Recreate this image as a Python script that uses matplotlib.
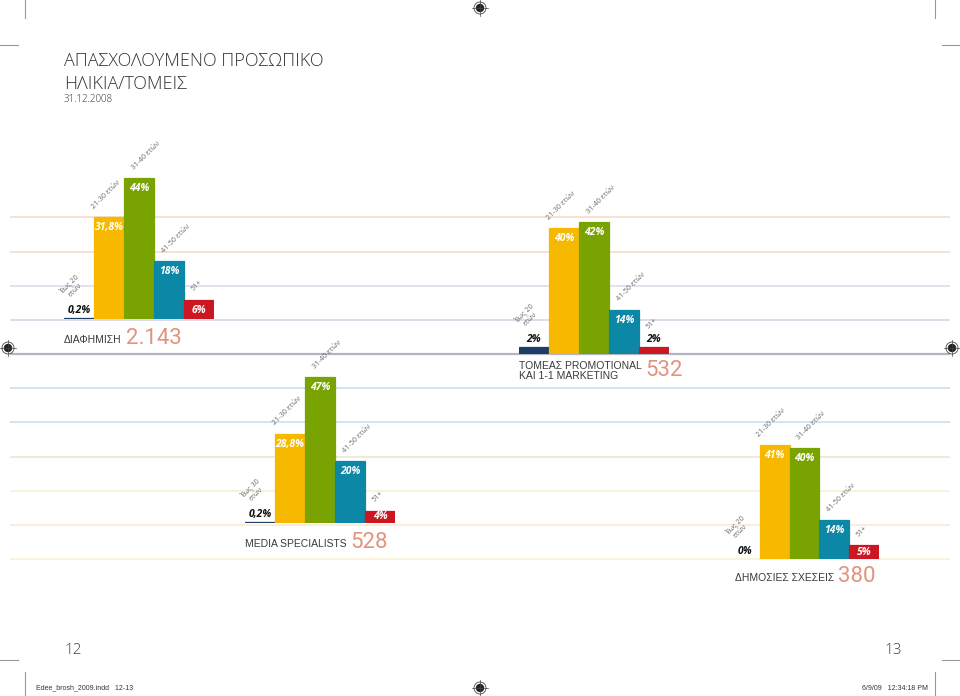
import matplotlib
matplotlib.use("Agg")
import matplotlib.pyplot as plt
from matplotlib.patches import Circle

plt.rcParams["font.family"] = ["Open Sans", "DejaVu Sans"]

# age groups per sector (the media chart reads "Έως 30" in the print)
age_groups = ["Έως 20\nετών", "21-30 ετών", "31-40 ετών", "41-50 ετών", "51+"]
media_groups = ["Έως 30\nετών", "21-30 ετών", "31-40 ετών", "41-50 ετών", "51+"]

# share of staff per age group, %
advertising = [0.2, 31.8, 44, 18, 6]
promotional = [2, 40, 42, 14, 2]
media = [0.2, 28.8, 47, 20, 4]
public_rel = [0, 41, 40, 14, 5]

sector_names = ["ΔΙΑΦΗΜΙΣΗ", "ΤΟΜΕΑΣ PROMOTIONAL\nΚΑΙ 1-1 MARKETING",
                "MEDIA SPECIALISTS", "ΔΗΜΟΣΙΕΣ ΣΧΕΣΕΙΣ"]
sector_staff = ["2.143", "532", "528", "380"]

bar_colors = ["#1d3c68", "#f6b900", "#79a300", "#0d87a6", "#cc1722"]
salmon = "#e2937d"
sans = ["Liberation Sans", "DejaVu Sans"]

W, H = 960, 696
fig = plt.figure(figsize=(9.6, 6.96), dpi=100)
page = fig.add_axes([0, 0, 1, 1])
page.set_xlim(0, W)
page.set_ylim(H, 0)
page.axis("off")

# background rules across the spread
rules = [(217, "#f6d9c6"), (252, "#f6d9c6"), (286, "#dcd8ea"), (320, "#d3d2e2"),
         (354, "#b4b4c0"), (388, "#c9dcea"), (422, "#c9dcea"), (457, "#e9e7cc"),
         (491, "#f8f0d2"), (525, "#f6ead0"), (559, "#f8f0d2")]
for y, c in rules:
    page.hlines(y, 10, 950, color=c, lw=1.6 if y == 354 else 1.1, zorder=0)

# crop marks
for xs, ys in [([25, 25], [0, 18]), ([935, 935], [0, 18]), ([0, 18], [45, 45]),
               ([942, 960], [45, 45]), ([0, 18], [660, 660]), ([942, 960], [660, 660]),
               ([25, 25], [672, 696]), ([935, 935], [672, 696])]:
    page.plot(xs, ys, color="#999999", lw=0.8)


def reg_mark(x, y):
    page.add_patch(Circle((x, y), 6, fill=False, ec="#444444", lw=0.6))
    page.add_patch(Circle((x, y), 3.5, color="#222222"))
    page.plot([x - 8, x + 8], [y, y], color="#444444", lw=0.5)
    page.plot([x, x], [y - 8, y + 8], color="#444444", lw=0.5)


for x, y in [(480, 8), (8, 348), (952, 348), (480, 688)]:
    reg_mark(x, y)

# titles
page.text(64, 61, "ΑΠΑΣΧΟΛΟΥΜΕΝΟ ΠΡΟΣΩΠΙΚΟ", fontsize=13, fontweight="light",
          color="#333333", va="center")
page.text(64, 84, "ΗΛΙΚΙΑ/ΤΟΜΕΙΣ", fontsize=13, fontweight="light",
          color="#333333", va="center")
page.text(64, 100, "31.12.2008", fontsize=7, fontweight="light",
          color="#333333", va="center")

page.text(64, 650, "12", fontsize=11, fontweight="light", color="#444444", va="center")
page.text(884, 650, "13", fontsize=11, fontweight="light", color="#444444", va="center")
page.text(36, 688, "Edee_brosh_2009.indd   12-13", fontsize=5, color="#333333",
          va="center", family=sans)
page.text(928, 688, "6/9/09   12:34:18 PM", fontsize=5, color="#333333",
          va="center", ha="right", family=sans)


def fmt(v):
    if v == int(v):
        return f"{int(v)}%"
    return f"{v}%".replace(".", ",")


def draw_panel(x0, x1, base, scale, values, labels):
    top = 55
    ax = fig.add_axes([x0 / W, (H - base) / H, (x1 - x0) / W, top * scale / H])
    ax.set_xlim(-0.5, 4.5)
    ax.set_ylim(0, top)
    ax.axis("off")
    ax.patch.set_alpha(0)
    lws = [0.9 if v > 0 else 0 for v in values]
    ax.bar(range(5), values, width=1, color=bar_colors, edgecolor=bar_colors,
           linewidth=lws)
    for i, v in enumerate(values):
        txt = fmt(v)
        kw = dict(fontsize=7.5, fontweight="bold", style="italic",
                  textcoords="offset pixels", ha="center")
        if v < 3:
            ax.annotate(txt, (i, v), xytext=(0, 2), va="bottom", color="#111111", **kw)
            dy = 17
        elif v * scale > 18:
            ax.annotate(txt, (i, v), xytext=(0, -5), va="top", color="white", **kw)
            dy = 7
        else:
            ax.annotate(txt, (i, v / 2), xytext=(0, 0), va="center", color="white", **kw)
            dy = 7
        dx = {0: -10, 1: -14}.get(i, -4)
        ax.annotate(labels[i], (i, v), xytext=(dx, dy), textcoords="offset pixels",
                    rotation=45, rotation_mode="anchor", ha="left", va="bottom",
                    multialignment="center", fontsize=5.2, color="#6a6a6a")
    return ax


draw_panel(64, 214, 319, 3.2, advertising, age_groups)
draw_panel(519, 669, 353.5, 3.13, promotional, age_groups)
draw_panel(245, 395, 523, 3.1, media, media_groups)
draw_panel(730, 879, 559, 2.77, public_rel, age_groups)

# sector names and head counts; the count sits right after its name
name_pos = [(64, 340), (519, 371), (245, 544), (735, 578)]
staff_x = [122, 634, 343, 826]
renderer = fig.canvas.get_renderer()
for name, staff, (x, y), sx in zip(sector_names, sector_staff, name_pos, staff_x):
    t = page.text(x, y, name, fontsize=7.5, color="#3a3a3a", va="center",
                  family=sans, linespacing=1.0)
    right = t.get_window_extent(renderer).x1
    page.text(max(sx, right + 4), y - 1, staff, fontsize=16,
              color=salmon, va="center", family=["Roboto", "DejaVu Sans"])

fig.savefig("out.png", dpi=100)
